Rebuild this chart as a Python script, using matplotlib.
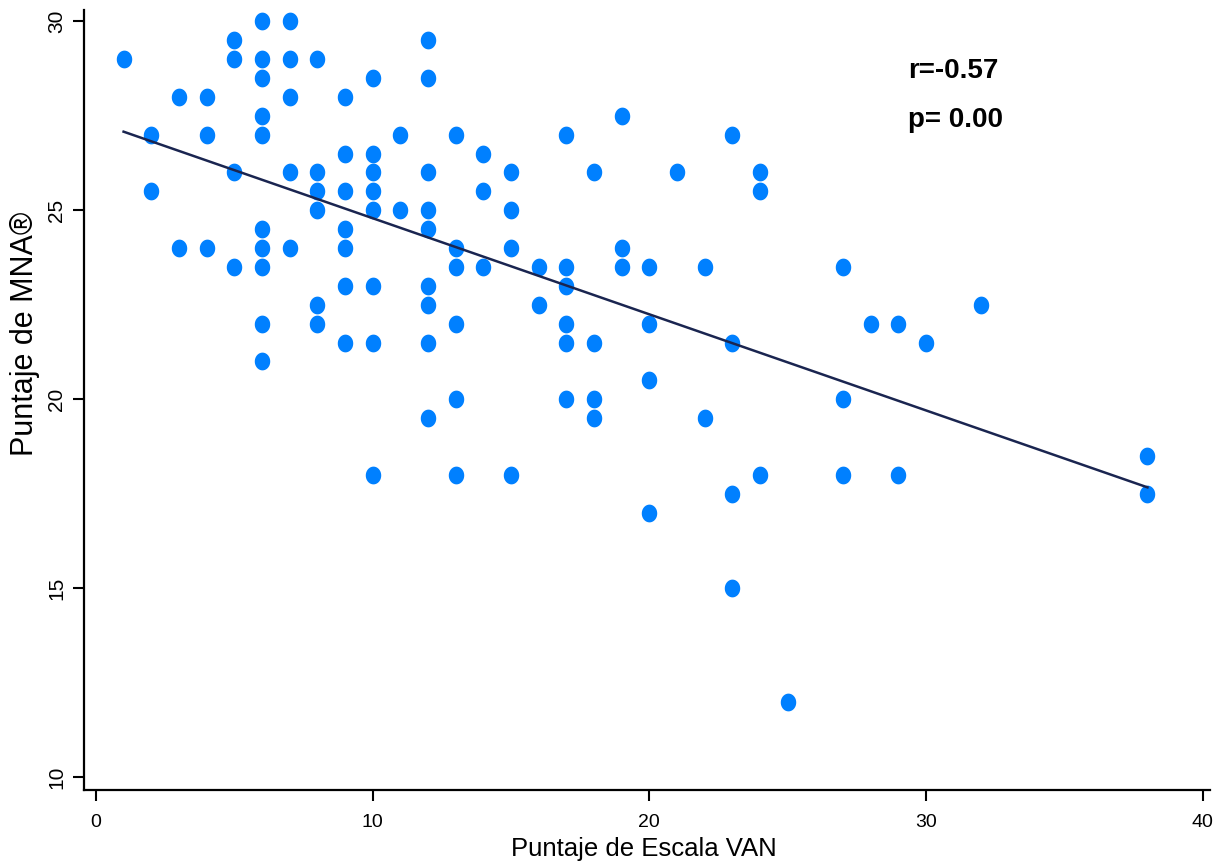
import matplotlib
matplotlib.use('Agg')
import matplotlib.pyplot as plt
import numpy as np
from matplotlib.path import Path

# Puntaje de Escala VAN (x) vs Puntaje de MNA (y), one point per patient
van = [1,
       2, 2,
       3, 3,
       4, 4, 4,
       5, 5, 5, 5,
       6, 6, 6, 6, 6, 6, 6, 6, 6, 6,
       7, 7, 7, 7, 7,
       8, 8, 8, 8, 8, 8,
       9, 9, 9, 9, 9, 9, 9,
       10, 10, 10, 10, 10, 10, 10, 10,
       11, 11,
       12, 12, 12, 12, 12, 12, 12, 12, 12,
       13, 13, 13, 13, 13, 13,
       14, 14, 14,
       15, 15, 15, 15,
       16, 16,
       17, 17, 17, 17, 17, 17,
       18, 18, 18, 18,
       19, 19, 19,
       20, 20, 20, 20,
       21,
       22, 22,
       23, 23, 23, 23,
       24, 24, 24,
       25,
       27, 27, 27,
       28,
       29, 29,
       30,
       32,
       38, 38]
mna = [29,
       27, 25.5,
       28, 24,
       28, 27, 24,
       29.5, 29, 26, 23.5,
       30, 29, 28.5, 27.5, 27, 24.5, 24, 23.5, 22, 21,
       30, 29, 28, 26, 24,
       29, 26, 25.5, 25, 22.5, 22,
       28, 26.5, 25.5, 24.5, 24, 23, 21.5,
       28.5, 26.5, 26, 25.5, 25, 23, 21.5, 18,
       27, 25,
       29.5, 28.5, 26, 25, 24.5, 23, 22.5, 21.5, 19.5,
       27, 24, 23.5, 22, 20, 18,
       26.5, 25.5, 23.5,
       26, 25, 24, 18,
       23.5, 22.5,
       27, 23.5, 23, 22, 21.5, 20,
       26, 21.5, 20, 19.5,
       27.5, 24, 23.5,
       23.5, 22, 20.5, 17,
       26,
       23.5, 19.5,
       27, 21.5, 17.5, 15,
       26, 25.5, 18,
       12,
       23.5, 20, 18,
       22,
       22, 18,
       21.5,
       22.5,
       18.5, 17.5]

r_text = 'r=-0.57'
p_text = 'p= 0.00'

x = np.array(van, dtype=float)
y = np.array(mna, dtype=float)

plt.rcParams['font.family'] = ['Liberation Sans', 'DejaVu Sans']

fig = plt.figure(figsize=(12.17, 8.63), dpi=100)
ax = fig.add_axes([84/1217, 1 - 790/863, (1210 - 84)/1217, (790 - 10)/863])

# slightly tall dots, like the stretched original
t = np.linspace(0, 2*np.pi, 40)
oval = Path(np.column_stack([np.cos(t), 1.15*np.sin(t)]), closed=True)

ax.scatter(x, y, s=12.8**2, marker=oval, color='#0080FF', linewidths=0, zorder=2)

# fitted line over the range of the data
b, a = np.polyfit(x, y, 1)
xs = np.array([x.min(), x.max()])
ax.plot(xs, a + b*xs, color='#1a2550', lw=1.8, zorder=3)

ax.set_xlim(-0.43, 40.26)
ax.set_ylim(9.66, 30.3)
ax.set_xticks([0, 10, 20, 30, 40])
ax.set_yticks([10, 15, 20, 25, 30])

for s in ['top', 'right']:
    ax.spines[s].set_visible(False)
for s in ['left', 'bottom']:
    ax.spines[s].set_linewidth(1.6)

ax.tick_params(length=8, width=1.5, color='black')
ax.tick_params(axis='x', pad=9, labelsize=14)
ax.tick_params(axis='y', pad=5, labelrotation=90, labelsize=15)
for lab in ax.get_yticklabels():
    lab.set_va('center')

fig.text(644/1217, 1 - 856/863, 'Puntaje de Escala VAN', ha='center', va='baseline',
         fontsize=18.5)
fig.text(25/1217, 1 - 334/863, 'Puntaje de MNA®', ha='center', va='center',
         rotation=90, fontsize=22)

fig.text(908/1217, 1 - 78/863, r_text, fontsize=20, fontweight='bold', va='baseline')
fig.text(908/1217, 1 - 127/863, p_text, fontsize=20, fontweight='bold', va='baseline')

fig.savefig('out.png', dpi=100)
